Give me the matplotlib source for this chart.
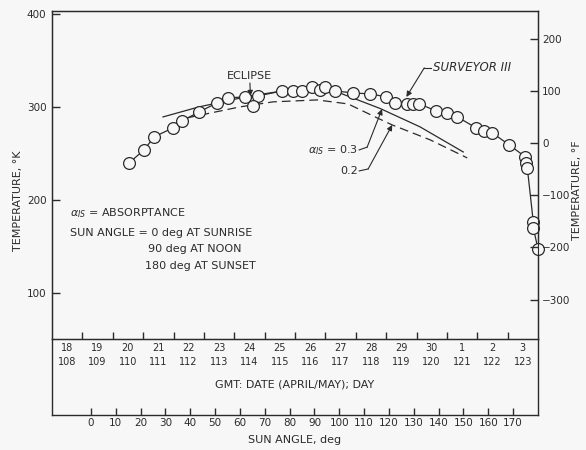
import numpy as np
import matplotlib.pyplot as plt

plt.rcParams['font.family'] = ['DejaVu Sans']

# Surveyor III measured temperature vs sun angle
sun_angle = [15.3, 21.4, 25.4, 33.0, 36.7, 43.5, 50.8, 55.2, 62.0, 67.3,
             77.0, 81.4, 85.0, 89.0, 92.3, 94.3, 98.3, 105.6, 112.4, 118.9,
             122.5, 127.3, 129.7, 132.2, 139.0, 143.4, 147.5, 155.1, 158.3, 161.6,
             168.4, 174.9, 175.3, 175.7, 178.1, 178.1, 180.0]
temp_k = [239.5, 253.5, 267.5, 277.2, 284.7, 294.4, 304.1, 309.5, 310.6, 311.6,
          317.0, 317.0, 317.0, 321.3, 318.1, 321.3, 317.0, 314.8, 313.8, 310.6,
          304.1, 303.0, 303.0, 303.0, 295.5, 293.3, 289.0, 277.2, 273.9, 271.8,
          258.9, 246.0, 239.5, 234.1, 176.0, 169.6, 147.0]
eclipse_angle = [65.3]
eclipse_temp = [300.9]

# predicted curves, absorptance 0.3 and 0.2
sun_03 = [29.0, 43.5, 64.1, 77.4, 92.3, 99.1, 116.5, 132.5, 149.9]
temp_03 = [289.0, 299.8, 311.6, 317.0, 318.1, 315.9, 298.0, 278.3, 251.3]
sun_02 = [38.7, 60.0, 73.3, 91.1, 103.5, 115.2, 121.3, 136.6, 151.5]
temp_02 = [288.0, 299.8, 305.2, 307.3, 303.0, 288.0, 280.4, 264.3, 244.9]

# date axis labels
dates = ['18', '19', '20', '21', '22', '23', '24', '25', '26', '27', '28', '29', '30', '1', '2', '3']
days = [108, 109, 110, 111, 112, 113, 114, 115, 116, 117, 118, 119, 120, 121, 122, 123]

k_ticks = [100, 200, 300, 400]
f_ticks = [-300, -200, -100, 0, 100, 200]
angle_ticks = list(range(0, 180, 10))

bg = '#f7f7f7'
ink = '#2b2b2b'
x0, x1 = -15.7, 180.0

fig = plt.figure(figsize=(5.86, 4.5), dpi=100, facecolor=bg)
ax2 = fig.add_axes([52/586, 1-415/450, 486/586, 76/450], facecolor='none')
ax = fig.add_axes([52/586, 1-339/450, 486/586, 328/450], facecolor=bg)

for a in (ax, ax2):
    for s in a.spines.values():
        s.set_color(ink)
        s.set_linewidth(1.0)

# main plot
ax.set_xlim(x0, x1)
ax.set_ylim(50, 403)
ax.plot(sun_03, temp_03, color=ink, lw=0.9)
ax.plot(sun_02, temp_02, color=ink, lw=0.9, ls=(0, (7, 4)))
ax.plot(sun_angle, temp_k, color=ink, lw=0.9, marker='o', ms=8.5, mfc=bg, mec=ink, mew=0.9, clip_on=False, zorder=3)
ax.plot(eclipse_angle, eclipse_temp, ls='none', marker='o', ms=8.5, mfc=bg, mec=ink, mew=0.9, zorder=3)

ax.set_yticks(k_ticks)
ax.tick_params(axis='y', direction='in', length=6, width=1, color=ink, labelsize=7.5, pad=4, labelcolor=ink)

# date axis along bottom of main plot
n = len(dates)
w = (x1 - x0) / n
ax.set_xticks([x0 + w * i for i in range(1, n)])
ax.set_xticks([x0 + w * (i + 0.5) for i in range(n)], minor=True)
ax.set_xticklabels(['%s\n%d' % (d, y) for d, y in zip(dates, days)], minor=True, linespacing=1.5)
ax.tick_params(axis='x', which='major', direction='in', length=5, width=1, color=ink, labelbottom=False)
ax.tick_params(axis='x', which='minor', length=0, labelsize=7, pad=3, labelcolor=ink)

# right axis in deg F
axr = ax.twinx()
axr.set_ylim(-375.5, 252.9)
axr.set_yticks(f_ticks)
axr.tick_params(axis='y', direction='in', length=6, width=1, color=ink, labelsize=7.5, pad=3, labelcolor=ink)
for s in axr.spines.values():
    s.set_color(ink)

# sun angle axis
ax2.set_xlim(x0, x1)
ax2.set_ylim(0, 1)
ax2.set_yticks([])
ax2.spines['top'].set_visible(False)
ax2.set_xticks(angle_ticks)
ax2.tick_params(axis='x', direction='in', length=5, width=1, color=ink, labelsize=7.5, pad=2, labelcolor=ink)
ax2.set_xlabel('SUN ANGLE, deg', fontsize=8, color=ink, labelpad=5)
ax2.text(0.5, 0.395, 'GMT: DATE (APRIL/MAY); DAY', transform=ax2.transAxes,
         ha='center', va='center', fontsize=8, color=ink)

fig.text(18/586, 1-201/450, 'TEMPERATURE, °K', rotation=90, ha='center', va='center', fontsize=8, color=ink)
fig.text(577/586, 1-190/450, 'TEMPERATURE, °F', rotation=90, ha='center', va='center', fontsize=8, color=ink)

# notes
fs = 8
ax.text(-8.5, 185.7, r'$\alpha_{IS}$ = ABSORPTANCE', fontsize=fs, va='center', color=ink)
ax.text(-8.5, 164.2, 'SUN ANGLE = 0 deg AT SUNRISE', fontsize=fs, va='center', color=ink)
ax.text(23.0, 147.0, '90 deg AT NOON', fontsize=fs, va='center', color=ink)
ax.text(21.8, 128.6, '180 deg AT SUNSET', fontsize=fs, va='center', color=ink)

arr = dict(arrowstyle='-|>', color=ink, lw=0.8, mutation_scale=8, shrinkA=0, shrinkB=0)

ax.text(63.7, 333.5, 'ECLIPSE', fontsize=fs, ha='center', va='center', color=ink)
ax.annotate('', xy=(64.2, 311.5), xytext=(64.0, 325.5), arrowprops=arr)

ax.text(137.6, 341.8, 'SURVEYOR III', fontsize=8.5, style='italic', ha='left', va='center', color=ink)
ax.plot([134.2, 137.0], [341.8, 341.8], color=ink, lw=0.8)
ax.annotate('', xy=(127.0, 310.5), xytext=(134.2, 341.8), arrowprops=arr)

ax.text(107.6, 253.5, r'$\alpha_{IS}$ = 0.3', fontsize=fs, ha='right', va='center', color=ink)
ax.plot([108.0, 111.2], [253.5, 256.5], color=ink, lw=0.8)
ax.annotate('', xy=(117.2, 297.5), xytext=(111.2, 256.5), arrowprops=arr)

ax.text(107.6, 230.9, '0.2', fontsize=fs, ha='right', va='center', color=ink)
ax.plot([108.0, 111.6], [230.9, 233.0], color=ink, lw=0.8)
ax.annotate('', xy=(121.3, 280.4), xytext=(111.6, 233.0), arrowprops=arr)

fig.savefig('out.png', dpi=100, facecolor=bg)
